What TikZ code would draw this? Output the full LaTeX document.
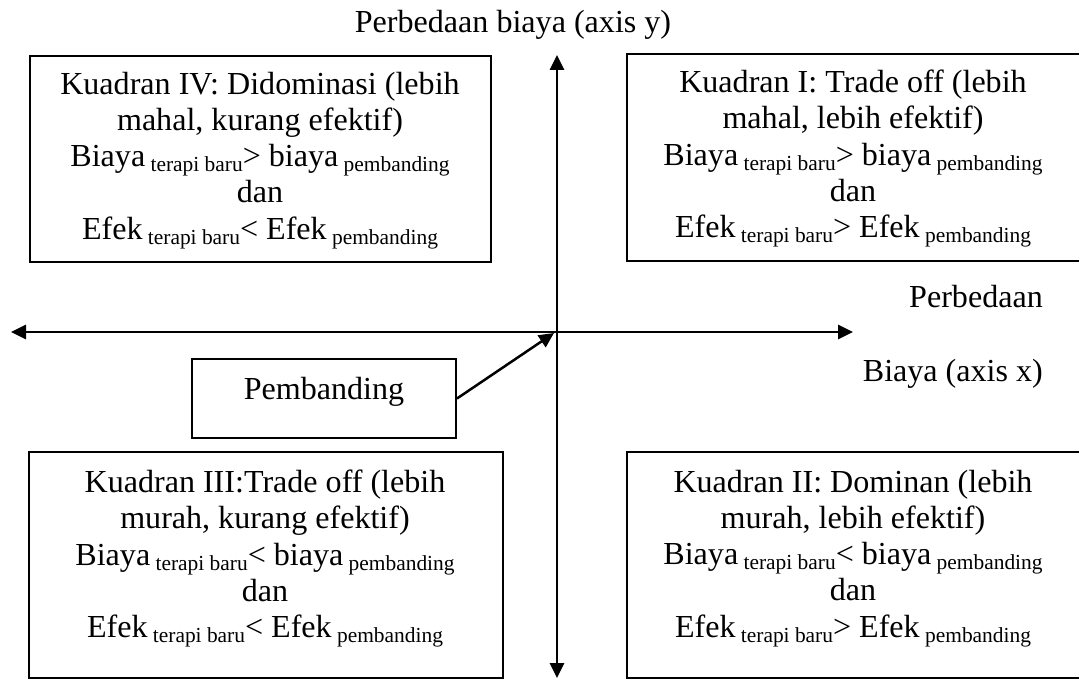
\documentclass[tikz,border=0pt]{standalone}
\usepackage{fontspec}
\setmainfont{Liberation Serif}
\usetikzlibrary{arrows.meta}
\newcommand{\sbs}[1]{\raisebox{-5bp}{\fontsize{21.5}{22}\selectfont\ #1}}
\begin{document}
\begin{tikzpicture}[x=1bp,y=-1bp,
  box/.style={draw, line width=2bp, inner sep=0, anchor=north west},
  txt/.style={align=center, inner sep=0, font=\fontsize{32.2}{36.3}\selectfont, anchor=north},
  lbl/.style={inner sep=0, font=\fontsize{32.2}{36.3}\selectfont},
  tip/.tip={Triangle[length=15bp,width=14bp]},
  axis/.style={line width=2.8bp, tip-tip}]
\useasboundingbox (0,0) rectangle (1079,679);

% quadrant boxes
\node[box, minimum width=461bp, minimum height=206bp] (b4) at (29,55) {};
\node[box, minimum width=455bp, minimum height=207bp] (b1) at (626,53) {};
\node[box, minimum width=474bp, minimum height=226bp] (b3) at (28,451) {};
\node[box, minimum width=455bp, minimum height=226bp] (b2) at (626,451) {};

\node[txt] (t4) at (260,72) {Kuadran IV: Didominasi (lebih\\ mahal, kurang efektif)\\ Biaya\sbs{terapi baru}> biaya\sbs{pembanding}\\ dan\\ Efek\sbs{terapi baru}< Efek\sbs{pembanding}};
\node[txt] (t1) at (853,70) {Kuadran I: Trade off (lebih\\ mahal, lebih efektif)\\ Biaya\sbs{terapi baru}> biaya\sbs{pembanding}\\ dan\\ Efek\sbs{terapi baru}> Efek\sbs{pembanding}};
\node[txt] (t3) at (265,470) {Kuadran III:Trade off (lebih\\ murah, kurang efektif)\\ Biaya\sbs{terapi baru}< biaya\sbs{pembanding}\\ dan\\ Efek\sbs{terapi baru}< Efek\sbs{pembanding}};
\node[txt] (t2) at (853,470) {Kuadran II: Dominan (lebih\\ murah, lebih efektif)\\ Biaya\sbs{terapi baru}< biaya\sbs{pembanding}\\ dan\\ Efek\sbs{terapi baru}> Efek\sbs{pembanding}};

% labels
\node[lbl, anchor=base] (ty) at (513,33) {Perbedaan biaya (axis y)};
\node[lbl, anchor=base east] (px) at (1043,307) {Perbedaan};
\node[lbl, anchor=base east] (bx) at (1043,381) {Biaya (axis x)};

% pembanding box
\node[box, minimum width=264bp, minimum height=79bp, text height=22bp, text depth=21bp,
      font=\fontsize{32.2}{36.3}\selectfont] (pb) at (191,358) {Pembanding};

% axes
\coordinate (yt) at (557,55);
\coordinate (yb) at (557,678);
\coordinate (xl) at (11,332);
\coordinate (xr) at (853,332);
\coordinate (o) at (554,333);
\draw[axis] (yb) -- (yt);
\draw[axis] (xl) -- (xr);
\draw[line width=2.5bp, -tip] (pb.east) -- (o);
\end{tikzpicture}
\end{document}
